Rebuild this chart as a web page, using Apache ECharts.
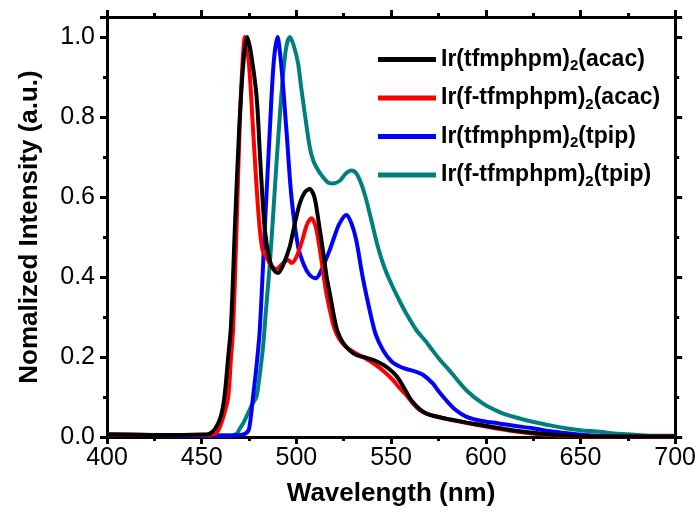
<!DOCTYPE html>
<html>
<head>
<meta charset="utf-8">
<script src="https://cdn.jsdelivr.net/npm/echarts@6/dist/echarts.min.js"></script>
<style>
  html, body { margin: 0; padding: 0; background: #fff; }
  #main { width: 699px; height: 514px; }
</style>
</head>
<body>
<div id="main"></div>
<script>
// series names ("_2" marks the subscript)
var names = [
  'Ir(tfmphpm)_2(acac)',
  'Ir(f-tfmphpm)_2(acac)',
  'Ir(tfmphpm)_2(tpip)',
  'Ir(f-tfmphpm)_2(tpip)'
];
var colors = ['#000000', '#ff0000', '#0000ff', '#00807c'];

// [wavelength nm, normalized intensity]
var acacData = [
  [400,0.006],[440,0.005],[450,0.006],[454,0.008],[457,0.02],[460,0.05],[462,0.10],[464,0.2],
  [465.5,0.28],[467.5,0.52],[469.8,0.77],[472,0.935],[474,1.0],[476,0.96],[479,0.85],[481,0.685],
  [483.3,0.52],[486,0.44],[488.5,0.415],[490.3,0.41],[493,0.43],[496.5,0.476],[499,0.53],
  [501.8,0.584],[504.5,0.612],[507,0.62],[509.5,0.6],[512,0.53],[514,0.4675],[516,0.40],
  [517.6,0.36],[521,0.276],[523,0.25],[525.5,0.23],[528.5,0.215],[531.6,0.205],[537,0.198],
  [542,0.19],[546,0.18],[549,0.17],[552,0.157],[555,0.138],[558,0.113],[561,0.09],[565,0.07],
  [569,0.058],[575,0.05],[580,0.045],[590,0.036],[600,0.028],[610,0.02],[620,0.013],[630,0.008],
  [642,0.004],[655,0.002],[700,0.001]
];
var fAcacData = [
  [400,0.006],[450,0.005],[455,0.006],[457.8,0.01],[460,0.03],[462,0.06],[464,0.10],[465.5,0.2],
  [466.6,0.27],[468.4,0.52],[470,0.77],[471.5,0.93],[472.8,1.0],[475,0.93],[477.1,0.77],
  [479.8,0.57],[482,0.47],[485,0.4425],[487,0.425],[489.5,0.42],[492,0.43],[495.6,0.4425],
  [497.5,0.435],[500,0.45],[503,0.49],[505.5,0.53],[508,0.547],[510.5,0.52],[513.2,0.4425],
  [515.8,0.36],[519.3,0.284],[521.5,0.255],[523.7,0.238],[527,0.222],[531.6,0.209],[537,0.195],
  [542,0.18],[546,0.165],[551,0.1425],[555,0.12],[558,0.105],[561.5,0.084],[565,0.068],
  [569,0.058],[575,0.05],[580,0.044],[590,0.035],[600,0.026],[610,0.018],[620,0.011],
  [630,0.006],[642,0.003],[655,0.001],[700,0.001]
];
var tpipData = [
  [400,0.006],[460,0.004],[465,0.004],[470,0.005],[473,0.008],[475,0.02],[477.1,0.10],[479,0.18],
  [480.7,0.27],[483.3,0.52],[486,0.77],[488,0.935],[490,1.0],[492,0.93],[494.7,0.77],[497.4,0.60],
  [500.9,0.476],[504,0.43],[507,0.405],[510.3,0.397],[513,0.415],[517.6,0.4675],[520,0.5],
  [522.8,0.534],[526.4,0.555],[529,0.535],[531.6,0.4925],[535,0.40],[539.5,0.30],[542,0.255],
  [545.7,0.2175],[550,0.19],[554.5,0.176],[558,0.17],[563.3,0.163],[567,0.155],[572,0.134],
  [575,0.115],[579,0.0925],[584,0.068],[589.6,0.051],[598,0.04],[607,0.034],[615,0.028],
  [624.6,0.022],[633,0.015],[642,0.01],[652,0.005],[665,0.002],[700,0.001]
];
var fTpipData = [
  [400,0.006],[460,0.004],[465.7,0.004],[468.4,0.008],[470,0.02],[472,0.035],[475,0.065],
  [477,0.085],[478.9,0.10],[480.5,0.15],[482.4,0.226],[484,0.32],[486,0.434],[487.8,0.56],
  [489.5,0.684],[492,0.85],[494.4,0.9675],[496.5,1.0],[498.5,0.98],[500.9,0.934],[502.5,0.875],
  [504.4,0.81],[507,0.726],[509,0.69],[511.4,0.6675],[514,0.65],[516.7,0.636],[519,0.634],
  [522.8,0.64],[526,0.658],[529,0.666],[531.5,0.66],[534.2,0.634],[536.5,0.6],[538.7,0.559],
  [543,0.476],[546,0.43],[549.2,0.3925],[554.5,0.34],[558,0.309],[563.3,0.2675],[568,0.241],
  [572,0.216],[576,0.192],[580.8,0.1665],[589.6,0.1175],[598.4,0.084],[607,0.063],[615,0.05],
  [624.8,0.038],[633,0.03],[642,0.022],[650,0.017],[660,0.013],[670,0.008],[680,0.005],
  [690,0.003],[700,0.003]
];
var allData = [acacData, fAcacData, tpipData, fTpipData];

var myChart = echarts.init(document.getElementById('main'));

var tickStyle = { color: '#000', width: 3 };
function frameAxis(extra) {
  var a = {
    axisLine: { show: true, onZero: false, lineStyle: { color: '#000', width: 3 } },
    axisTick: { show: true, length: 7, lineStyle: tickStyle },
    minorTick: { show: true, splitNumber: 2, length: 4, lineStyle: tickStyle },
    splitLine: { show: false },
    minorSplitLine: { show: false }
  };
  for (var k in extra) a[k] = extra[k];
  return a;
}

var option = {
  animation: false,
  color: colors,
  legend: {
    data: names,
    orient: 'vertical',
    left: 373,
    top: 43,
    itemGap: 13,
    itemWidth: 58,
    itemHeight: 5,
    icon: 'rect',
    formatter: function (name) {
      var p = name.split('_2');
      return '{t|' + p[0] + '}{s|2}{t|' + p[1] + '}';
    },
    textStyle: {
      rich: {
        t: { fontFamily: 'Liberation Sans', fontWeight: 'bold', fontSize: 23, color: '#000' },
        s: { fontFamily: 'Liberation Sans', fontWeight: 'bold', fontSize: 15, color: '#000', verticalAlign: 'bottom', padding: [13, 0, 0, 0] }
      }
    }
  },
  grid: { left: 107, right: 22, top: 17, bottom: 77 },
  xAxis: [
    frameAxis({
      type: 'value', min: 400, max: 700, interval: 50, position: 'bottom',
      name: 'Wavelength (nm)', nameLocation: 'middle', nameGap: 44,
      nameTextStyle: { fontFamily: 'Liberation Sans', fontWeight: 'bold', fontSize: 26, color: '#000' },
      axisLabel: { fontFamily: 'Liberation Sans', fontSize: 25, color: '#000', margin: 9 }
    }),
    frameAxis({
      type: 'value', min: 400, max: 700, interval: 50, position: 'top',
      axisLabel: { show: false }
    })
  ],
  yAxis: [
    frameAxis({
      type: 'value', min: 0, max: 1.05, interval: 0.2, position: 'left',
      name: 'Nomalized Intensity (a.u.)', nameLocation: 'middle', nameGap: 64,
      nameTextStyle: { fontFamily: 'Liberation Sans', fontWeight: 'bold', fontSize: 26, color: '#000' },
      axisLabel: {
        fontFamily: 'Liberation Sans', fontSize: 25, color: '#000', margin: 12, showMaxLabel: false,
        formatter: function (v) { return v.toFixed(1); }
      }
    }),
    frameAxis({
      type: 'value', min: 0, max: 1.05, interval: 0.2, position: 'right',
      axisLabel: { show: false }
    })
  ],
  series: allData.map(function (d, i) {
    return {
      name: names[i],
      type: 'line',
      data: d,
      smooth: 0.3,
      showSymbol: false,
      z: 4 - i,
      lineStyle: { width: 4, color: colors[i] }
    };
  })
};
myChart.setOption(option);
</script>
</body>
</html>
